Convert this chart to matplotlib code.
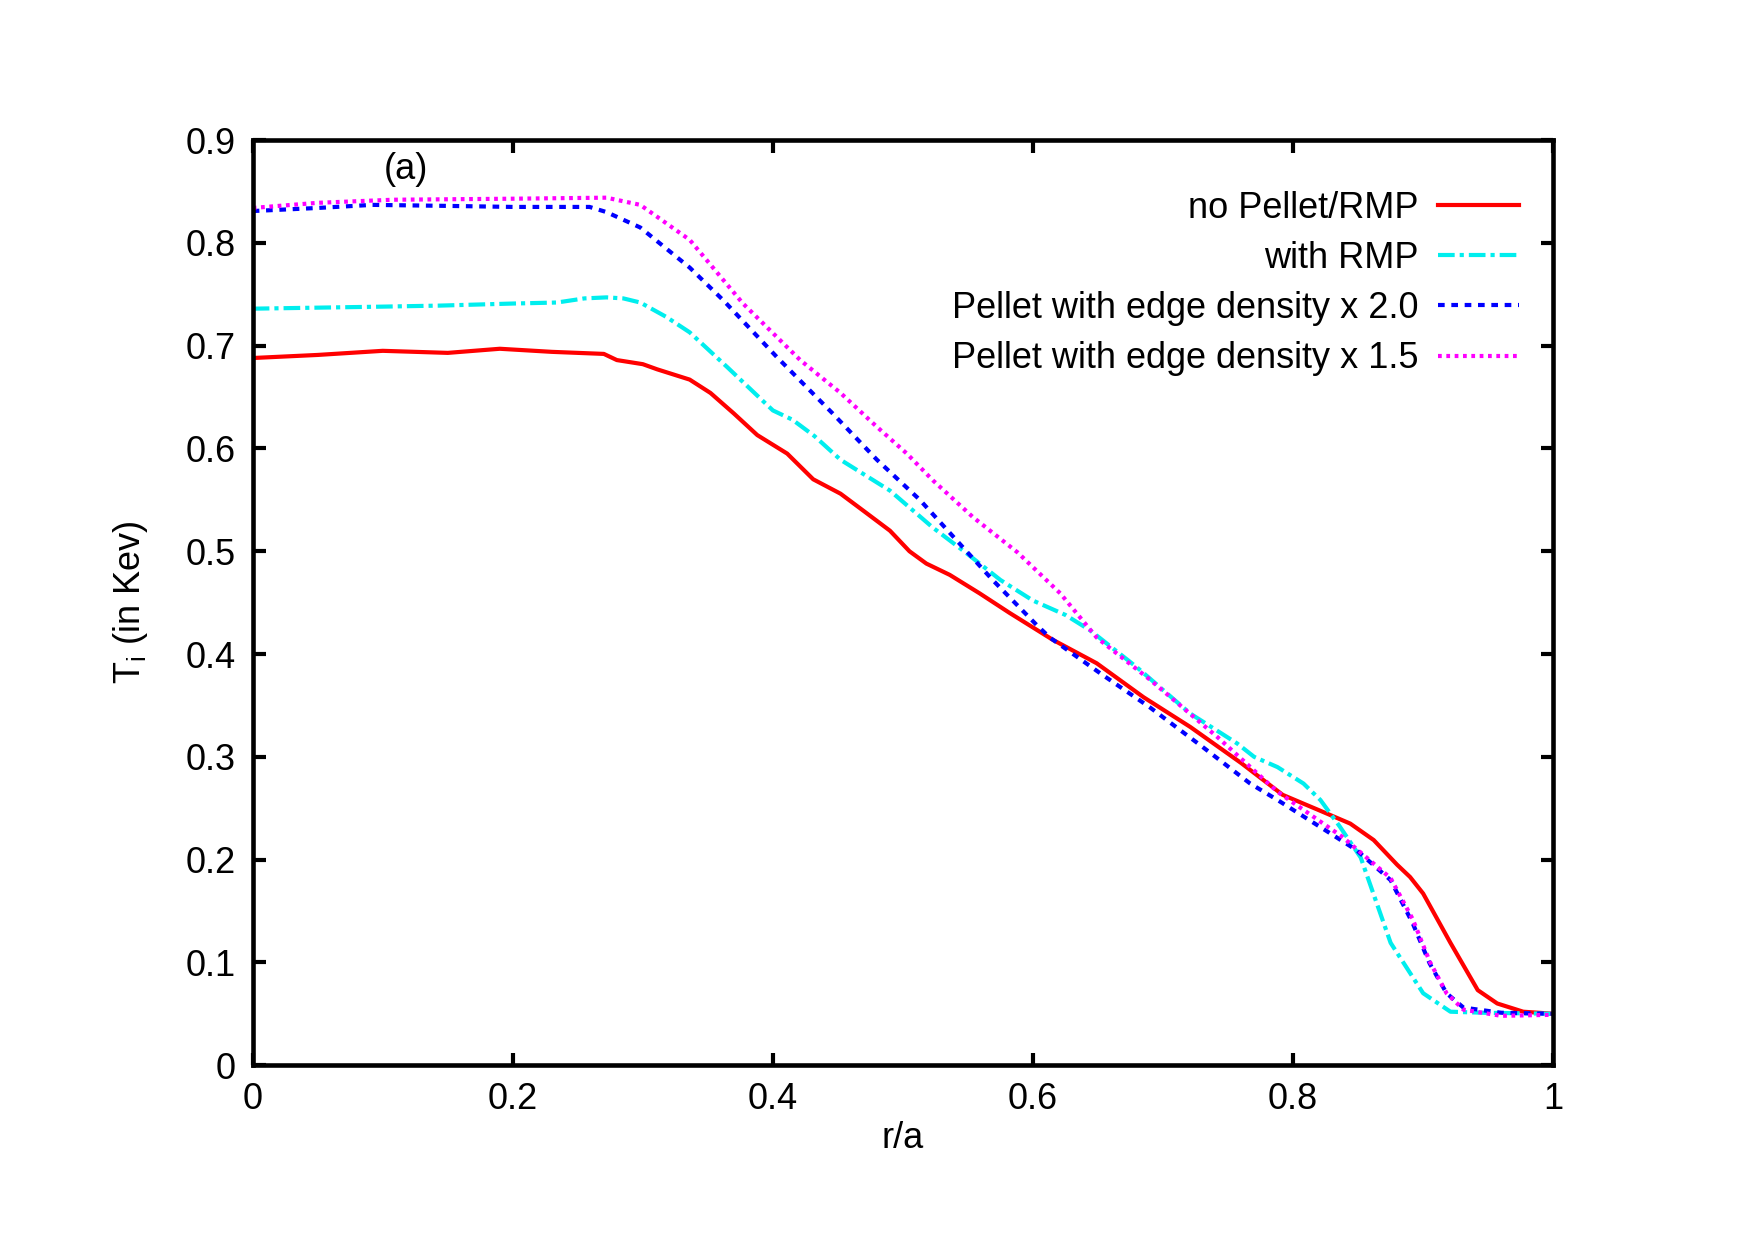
import numpy as np
import matplotlib
matplotlib.use('Agg')
import matplotlib.pyplot as plt

plt.rcParams['font.family'] = ['Liberation Sans', 'DejaVu Sans']

# r/a and Ti (keV)
r_none = [0.0, 0.05, 0.1, 0.15, 0.19, 0.23, 0.25, 0.27, 0.28, 0.3, 0.311, 0.336, 0.352, 0.37,
          0.388, 0.411, 0.431, 0.452, 0.47, 0.49, 0.505, 0.518, 0.536, 0.559, 0.582, 0.615,
          0.649, 0.685, 0.721, 0.76, 0.792, 0.82, 0.844, 0.862, 0.88, 0.89, 0.9, 0.921,
          0.942, 0.957, 0.977, 1.0]
ti_none = [0.688, 0.691, 0.695, 0.693, 0.697, 0.694, 0.693, 0.692, 0.686, 0.682, 0.677, 0.667,
           0.654, 0.634, 0.613, 0.595, 0.570, 0.556, 0.539, 0.520, 0.500, 0.488, 0.477, 0.459,
           0.440, 0.414, 0.391, 0.358, 0.329, 0.294, 0.263, 0.248, 0.235, 0.219, 0.195, 0.183,
           0.167, 0.119, 0.073, 0.060, 0.052, 0.050]

r_rmp = [0.0, 0.05, 0.1, 0.144, 0.2, 0.234, 0.255, 0.272, 0.285, 0.298, 0.318, 0.336, 0.365,
         0.4, 0.415, 0.432, 0.452, 0.49, 0.523, 0.549, 0.575, 0.6, 0.625, 0.644, 0.68, 0.721,
         0.757, 0.77, 0.788, 0.808, 0.821, 0.836, 0.852, 0.875, 0.9, 0.921, 0.946, 1.0]
ti_rmp = [0.736, 0.737, 0.738, 0.739, 0.741, 0.742, 0.746, 0.747, 0.746, 0.742, 0.728, 0.713,
          0.679, 0.637, 0.628, 0.612, 0.589, 0.559, 0.523, 0.498, 0.472, 0.452, 0.438, 0.423,
          0.387, 0.342, 0.313, 0.300, 0.290, 0.274, 0.258, 0.232, 0.202, 0.119, 0.070, 0.052,
          0.051, 0.050]

r_p20 = [0.0, 0.05, 0.092, 0.15, 0.2, 0.259, 0.272, 0.298, 0.336, 0.362, 0.403, 0.446, 0.48,
         0.513, 0.546, 0.569, 0.603, 0.613, 0.652, 0.69, 0.73, 0.767, 0.788, 0.828, 0.849,
         0.875, 0.892, 0.905, 0.918, 0.931, 0.96, 1.0]
ti_p20 = [0.831, 0.834, 0.837, 0.836, 0.835, 0.835, 0.830, 0.815, 0.776, 0.744, 0.689, 0.634,
          0.589, 0.550, 0.504, 0.472, 0.428, 0.416, 0.381, 0.348, 0.310, 0.274, 0.258, 0.226,
          0.209, 0.180, 0.138, 0.099, 0.070, 0.056, 0.051, 0.050]

r_p15 = [0.0, 0.05, 0.108, 0.2, 0.272, 0.298, 0.336, 0.377, 0.421, 0.452, 0.48, 0.503, 0.523,
         0.554, 0.588, 0.621, 0.649, 0.69, 0.742, 0.788, 0.838, 0.875, 0.892, 0.905, 0.918,
         0.931, 0.96, 1.0]
ti_p15 = [0.834, 0.839, 0.842, 0.843, 0.844, 0.837, 0.803, 0.741, 0.686, 0.654, 0.621, 0.595,
          0.569, 0.533, 0.499, 0.459, 0.416, 0.375, 0.319, 0.266, 0.222, 0.182, 0.142, 0.101,
          0.070, 0.054, 0.048, 0.049]

labels = ['no Pellet/RMP', 'with RMP', 'Pellet with edge density x 2.0',
          'Pellet with edge density x 1.5']

xticks = [0, 0.2, 0.4, 0.6, 0.8, 1]
xticklabels = ['0', '0.2', '0.4', '0.6', '0.8', '1']
yticks = [0, 0.1, 0.2, 0.3, 0.4, 0.5, 0.6, 0.7, 0.8, 0.9]
yticklabels = ['0', '0.1', '0.2', '0.3', '0.4', '0.5', '0.6', '0.7', '0.8', '0.9']

fs = 26
lw = 3.0

fig = plt.figure(figsize=(17.55, 12.4), dpi=100)
ax = fig.add_axes([0.144, 0.141, 0.741, 0.746])

ax.plot(r_none, ti_none, color='#ff0000', lw=lw, ls='-', label=labels[0])
ax.plot(r_rmp, ti_rmp, color='#00eeee', lw=lw, ls=(0, (4, 1.2, 1, 1.2)), label=labels[1])
ax.plot(r_p20, ti_p20, color='#0000ff', lw=lw, ls=(0, (1.6, 1.6)), label=labels[2])
ax.plot(r_p15, ti_p15, color='#ff00ff', lw=lw, ls=(0, (0.9, 1.1)), label=labels[3])

ax.set_xlim(0, 1)
ax.set_ylim(0, 0.9)
ax.set_xticks(xticks)
ax.set_xticklabels(xticklabels)
ax.set_yticks(yticks)
ax.set_yticklabels(yticklabels)
ax.tick_params(direction='in', top=True, right=True, length=9, width=3,
               labelsize=fs, pad=12)
for s in ax.spines.values():
    s.set_linewidth(3.3)

ax.set_xlabel('r/a', fontsize=fs, va='center')
ax.set_ylabel(r'T$_\mathregular{i}$ (in Kev)', fontsize=fs, va='center')
ax.xaxis.set_label_coords(0.5, -0.079)
ax.yaxis.set_label_coords(-0.094, 0.5)

ax.text(0.118, 0.871, '(a)', fontsize=fs, ha='center', va='center')

leg = ax.legend(loc='upper right', bbox_to_anchor=(0.985, 0.961), borderaxespad=0,
                frameon=False, markerfirst=False, fontsize=fs,
                handlelength=2.25, labelspacing=0.42, handletextpad=0.55)

fig.savefig('out.png', dpi=100)
